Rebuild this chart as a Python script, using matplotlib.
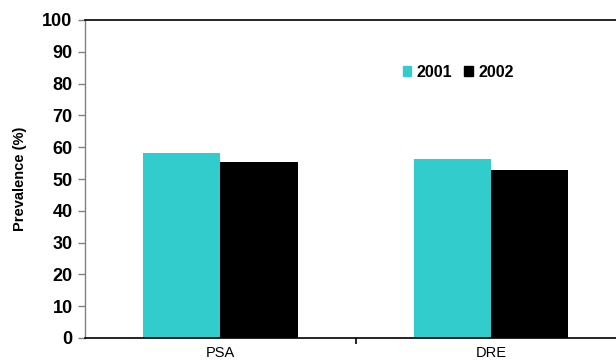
import matplotlib
matplotlib.use("Agg")
import matplotlib.pyplot as plt
import numpy as np
from matplotlib.patches import Patch

categories = ["PSA", "DRE"]
series_names = ["2001", "2002"]
values_2001 = [58.1, 56.3]
values_2002 = [55.4, 52.8]
colors = ["#33CCCC", "#000000"]
yticks = [0, 10, 20, 30, 40, 50, 60, 70, 80, 90, 100]

plt.rcParams['font.family'] = ['Liberation Sans', 'DejaVu Sans']

fig = plt.figure(figsize=(6.16, 3.6), dpi=100)
ax = fig.add_axes([85/616, 22/360, 541.5/616, 318/360])

x = np.arange(len(categories))
w = 0.285
ax.bar(x - w/2, values_2001, width=w, color=colors[0], label=series_names[0])
ax.bar(x + w/2, values_2002, width=w, color=colors[1], label=series_names[1])

ax.set_xlim(-0.5, 1.5)
ax.set_ylim(0, 100)
ax.set_yticks(yticks)
ax.set_yticklabels([str(t) for t in yticks], fontsize=13, fontweight='bold')
ax.tick_params(axis='y', direction='out', length=5, width=1, color='#808080', pad=4)

ax.set_xticks([0.5], minor=False)
ax.set_xticklabels([""])
ax.tick_params(axis='x', direction='out', length=4, width=1.2, color='black')
for i, c in enumerate(categories):
    ax.text(i, -2.5, c, ha='center', va='top', fontsize=10.5, transform=ax.transData)

ax.spines['right'].set_visible(False)
ax.spines['left'].set_color('#808080')
ax.spines['left'].set_linewidth(1)
ax.spines['bottom'].set_color('black')
ax.spines['bottom'].set_linewidth(1.2)
ax.spines['top'].set_color('black')
ax.spines['top'].set_linewidth(1.2)

ax.set_ylabel("Prevalence (%)", fontsize=10.5, fontweight='bold', labelpad=11)

handles = [Patch(color=colors[0], label=series_names[0]), Patch(color=colors[1], label=series_names[1])]
leg = ax.legend(handles=handles, loc='upper left', bbox_to_anchor=(0.56, 0.905), ncol=2, frameon=False,
                prop={'weight': 'bold', 'size': 11.5}, handlelength=0.55, handleheight=0.55,
                handletextpad=0.35, columnspacing=0.7)

fig.savefig("out.png", dpi=100)
